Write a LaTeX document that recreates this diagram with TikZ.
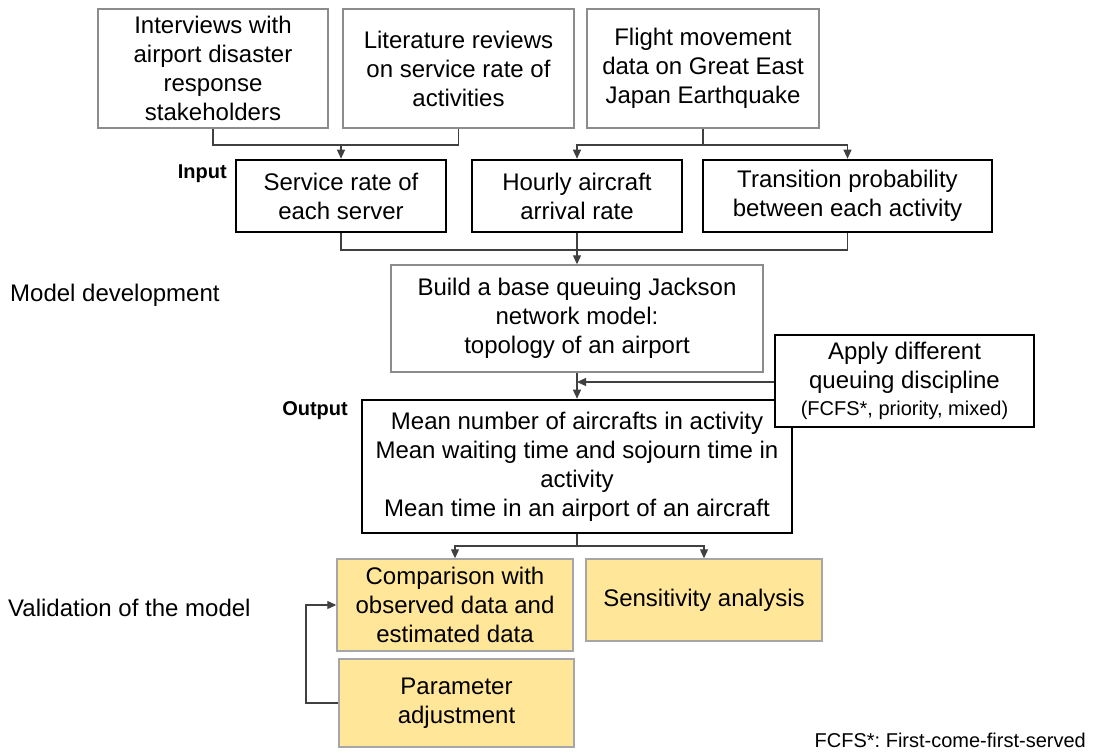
\documentclass[tikz,border=0pt]{standalone}
\usepackage{fontspec}
\setmainfont{Liberation Sans}
\usetikzlibrary{arrows.meta}
\frenchspacing

\definecolor{boxgray}{HTML}{8C8C8C}
\definecolor{linegray}{HTML}{404040}
\definecolor{paleyellow}{HTML}{FFE699}
\definecolor{yellowedge}{HTML}{A6A6A6}

\tikzset{
  txt/.style={font=\fontsize{24}{29}\selectfont, align=center, inner sep=0pt},
  srcbox/.style={txt, draw=boxgray, line width=1.4pt, fill=white},
  keybox/.style={txt, draw=black, line width=2.6pt, fill=white},
  valbox/.style={txt, draw=yellowedge, line width=1.4pt, fill=paleyellow},
  conn/.style={draw=linegray, line width=1.1pt},
  arr/.style={conn, -{Triangle[length=9pt,width=8pt]}},
  tag/.style={font=\fontsize{20}{24}\selectfont\bfseries, inner sep=0pt},
  side/.style={font=\fontsize{24}{29}\selectfont, inner sep=0pt, anchor=west},
  disctext/.style={keybox, minimum width=259pt, minimum height=92pt}
}

\begin{document}
\begin{tikzpicture}[x=1pt, y=-1pt]
\useasboundingbox (0,0) rectangle (1093,753);

% data sources
\node[srcbox, minimum width=230pt, minimum height=119pt] (intv) at (213,68.5)
  {Interviews with\\airport disaster\\response\\stakeholders};
\node[srcbox, minimum width=231pt, minimum height=119pt] (lit) at (458.5,68.5)
  {Literature reviews\\on service rate of\\activities};
\node[srcbox, minimum width=232pt, minimum height=119pt] (flt) at (703,68.5)
  {Flight movement\\data on Great East\\Japan Earthquake};

% model inputs
\node[keybox, minimum width=210pt, minimum height=72pt] (svc) at (341,196)
  {Service rate of\\each server};
\node[keybox, minimum width=210pt, minimum height=72pt] (arrv) at (577,196)
  {Hourly aircraft\\arrival rate};
\node[keybox, minimum width=289pt, minimum height=72pt] (trans) at (847.5,196)
  {Transition probability\\between each activity};
\node[tag, anchor=east] (inlbl) at (227,174) {Input};

% model
\node[srcbox, minimum width=372pt, minimum height=107pt] (build) at (577,318.5)
  {Build a base queuing Jackson\\network model:\\topology of an airport};
\node[side] (mdev) at (10,295) {Model development};

% outputs
\node[keybox, minimum width=430pt, minimum height=133pt] (out) at (577,466.5)
  {Mean number of aircrafts in activity\\Mean waiting time and sojourn time in\\activity\\Mean time in an airport of an aircraft};
\node[tag, anchor=east] (outlbl) at (348,411) {Output};

% validation
\node[valbox, minimum width=236pt, minimum height=92pt] (cmp) at (455,605)
  {Comparison with\\observed data and\\estimated data};
\node[valbox, minimum width=236pt, minimum height=82pt] (sens) at (704,600)
  {Sensitivity analysis};
\node[valbox, minimum width=235pt, minimum height=88pt] (param) at (456.5,703)
  {Parameter\\adjustment};
\node[side] (valid) at (8,608) {Validation of the model};

\node[font=\fontsize{20}{24}\selectfont, inner sep=0pt, anchor=east] (note) at (1086,740)
  {FCFS*: First-come-first-served};

% discipline box, drawn over the corner of the output box
\node[disctext] (disc) at (904.5,381)
  {Apply different\\queuing discipline\\[-2pt]{\fontsize{20}{24}\selectfont (FCFS*, priority, mixed)}};

% connectors: sources to inputs
\coordinate (jsvc) at (341,145);
\draw[conn] (intv.south) |- (jsvc);
\draw[conn] (lit.south) |- (jsvc);
\draw[arr] (jsvc) -- (svc.north);
\coordinate (jflt) at (703,145);
\draw[conn] (flt.south) -- (jflt);
\draw[arr] (jflt) -| (arrv.north);
\draw[arr] (jflt) -| (trans.north);

% inputs to model
\coordinate (jin) at (577,250);
\draw[conn] (svc.south) |- (jin);
\draw[conn] (trans.south) |- (jin);
\draw[conn] (arrv.south) -- (jin);
\draw[arr] (jin) -- (build.north);

% model to outputs
\draw[arr] (build.south) -- (out.north);
\coordinate (jdisc) at (577,382);
\draw[arr] (disc.west |- jdisc) -- (jdisc);

% outputs to validation
\coordinate (jout) at (577,546);
\draw[conn] (out.south) -- (jout);
\draw[arr] (jout) -| (cmp.north);
\draw[arr] (jout) -| (sens.north);

% feedback loop
\coordinate (fb) at (306,703);
\draw[arr] (param.west) -- (fb) |- (cmp.west);
\end{tikzpicture}
\end{document}
